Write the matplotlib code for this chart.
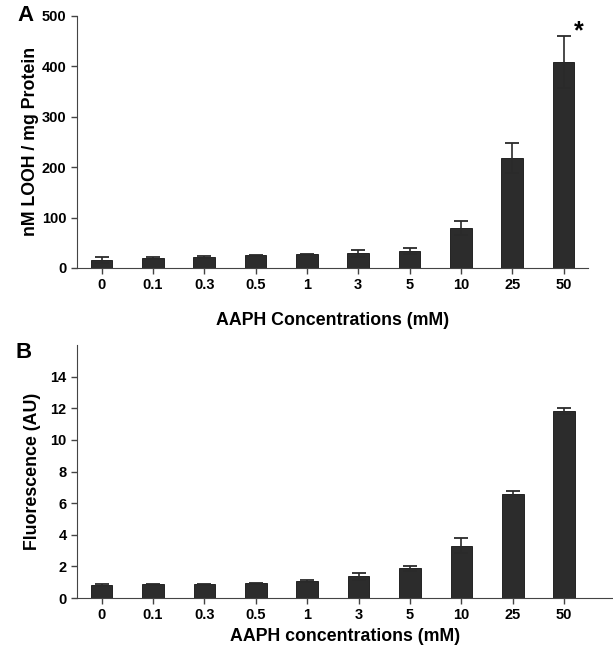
import numpy as np
import matplotlib.pyplot as plt

plt.rcParams['font.family'] = ['Liberation Sans', 'DejaVu Sans']
plt.rcParams['font.weight'] = 'bold'

# concentrations (mM), shared by both panels
conc = ["0", "0.1", "0.3", "0.5", "1", "3", "5", "10", "25", "50"]

# panel A: lipid hydroperoxides
looh = [16, 20, 22, 25, 27, 29, 34, 80, 218, 408]
looh_err = [6, 2, 2, 1.5, 1.5, 7, 6, 14, 29, 51]

# panel B: fluorescence
fluo = [0.82, 0.88, 0.88, 0.92, 1.07, 1.37, 1.88, 3.32, 6.6, 11.84]
fluo_err = [0.05, 0.03, 0.03, 0.06, 0.04, 0.22, 0.17, 0.45, 0.17, 0.17]

bar_col = "#2c2c2c"
x = np.arange(len(conc))

fig = plt.figure(figsize=(6.13, 6.47), dpi=100)
axA = fig.add_axes([0.1256, 0.5858, 0.833, 0.3899])
axB = fig.add_axes([0.1256, 0.0757, 0.8744, 0.391])

# --- panel A
axA.bar(x, looh, width=0.42, color=bar_col, edgecolor="#111111", linewidth=0.6)
axA.errorbar(x, looh, yerr=looh_err, fmt="none", ecolor="#2a2a2a",
             elinewidth=1.2, capsize=5, capthick=1.3)
axA.set_xlim(-0.48, 9.47)
axA.set_ylim(0, 500)
axA.set_yticks([0, 100, 200, 300, 400, 500])
axA.set_xticks(x)
axA.set_xticklabels(conc)
axA.set_ylabel("nM LOOH / mg Protein", fontsize=12.8, fontweight="bold", labelpad=2)
axA.set_xlabel("AAPH Concentrations (mM)", fontsize=12.8, fontweight="bold", labelpad=14)
axA.text(9.29, 469, "*", fontsize=18, fontweight="bold", ha="center", va="center")
axA.text(-0.1, 1.0, "A", transform=axA.transAxes, fontsize=16, fontweight="bold",
         ha="center", va="center")

# --- panel B
axB.bar(x, fluo, width=0.42, color=bar_col, edgecolor="#111111", linewidth=0.6)
axB.errorbar(x, fluo, yerr=fluo_err, fmt="none", ecolor="#2a2a2a",
             elinewidth=1.2, capsize=5, capthick=1.3)
axB.set_xlim(-0.48, 9.95)
axB.set_ylim(0, 16)
axB.set_yticks(np.arange(0, 15, 2))
axB.set_xticks(x)
axB.set_xticklabels(conc)
axB.set_ylabel("Fluorescence (AU)", fontsize=12.8, fontweight="bold", labelpad=7)
axB.set_xlabel("AAPH concentrations (mM)", fontsize=12.8, fontweight="bold", labelpad=4)
axB.text(-0.1, 0.97, "B", transform=axB.transAxes, fontsize=16, fontweight="bold",
         ha="center", va="center")

for ax in (axA, axB):
    ax.spines["top"].set_visible(False)
    ax.spines["right"].set_visible(False)
    ax.spines["left"].set_color("#444444")
    ax.spines["bottom"].set_color("#444444")
    ax.tick_params(direction="out", length=4, width=1, colors="#444444",
                   labelcolor="black", labelsize=10.5)
    for t in ax.get_xticklabels() + ax.get_yticklabels():
        t.set_fontweight("bold")

fig.savefig("out.png", dpi=100, facecolor="white")
